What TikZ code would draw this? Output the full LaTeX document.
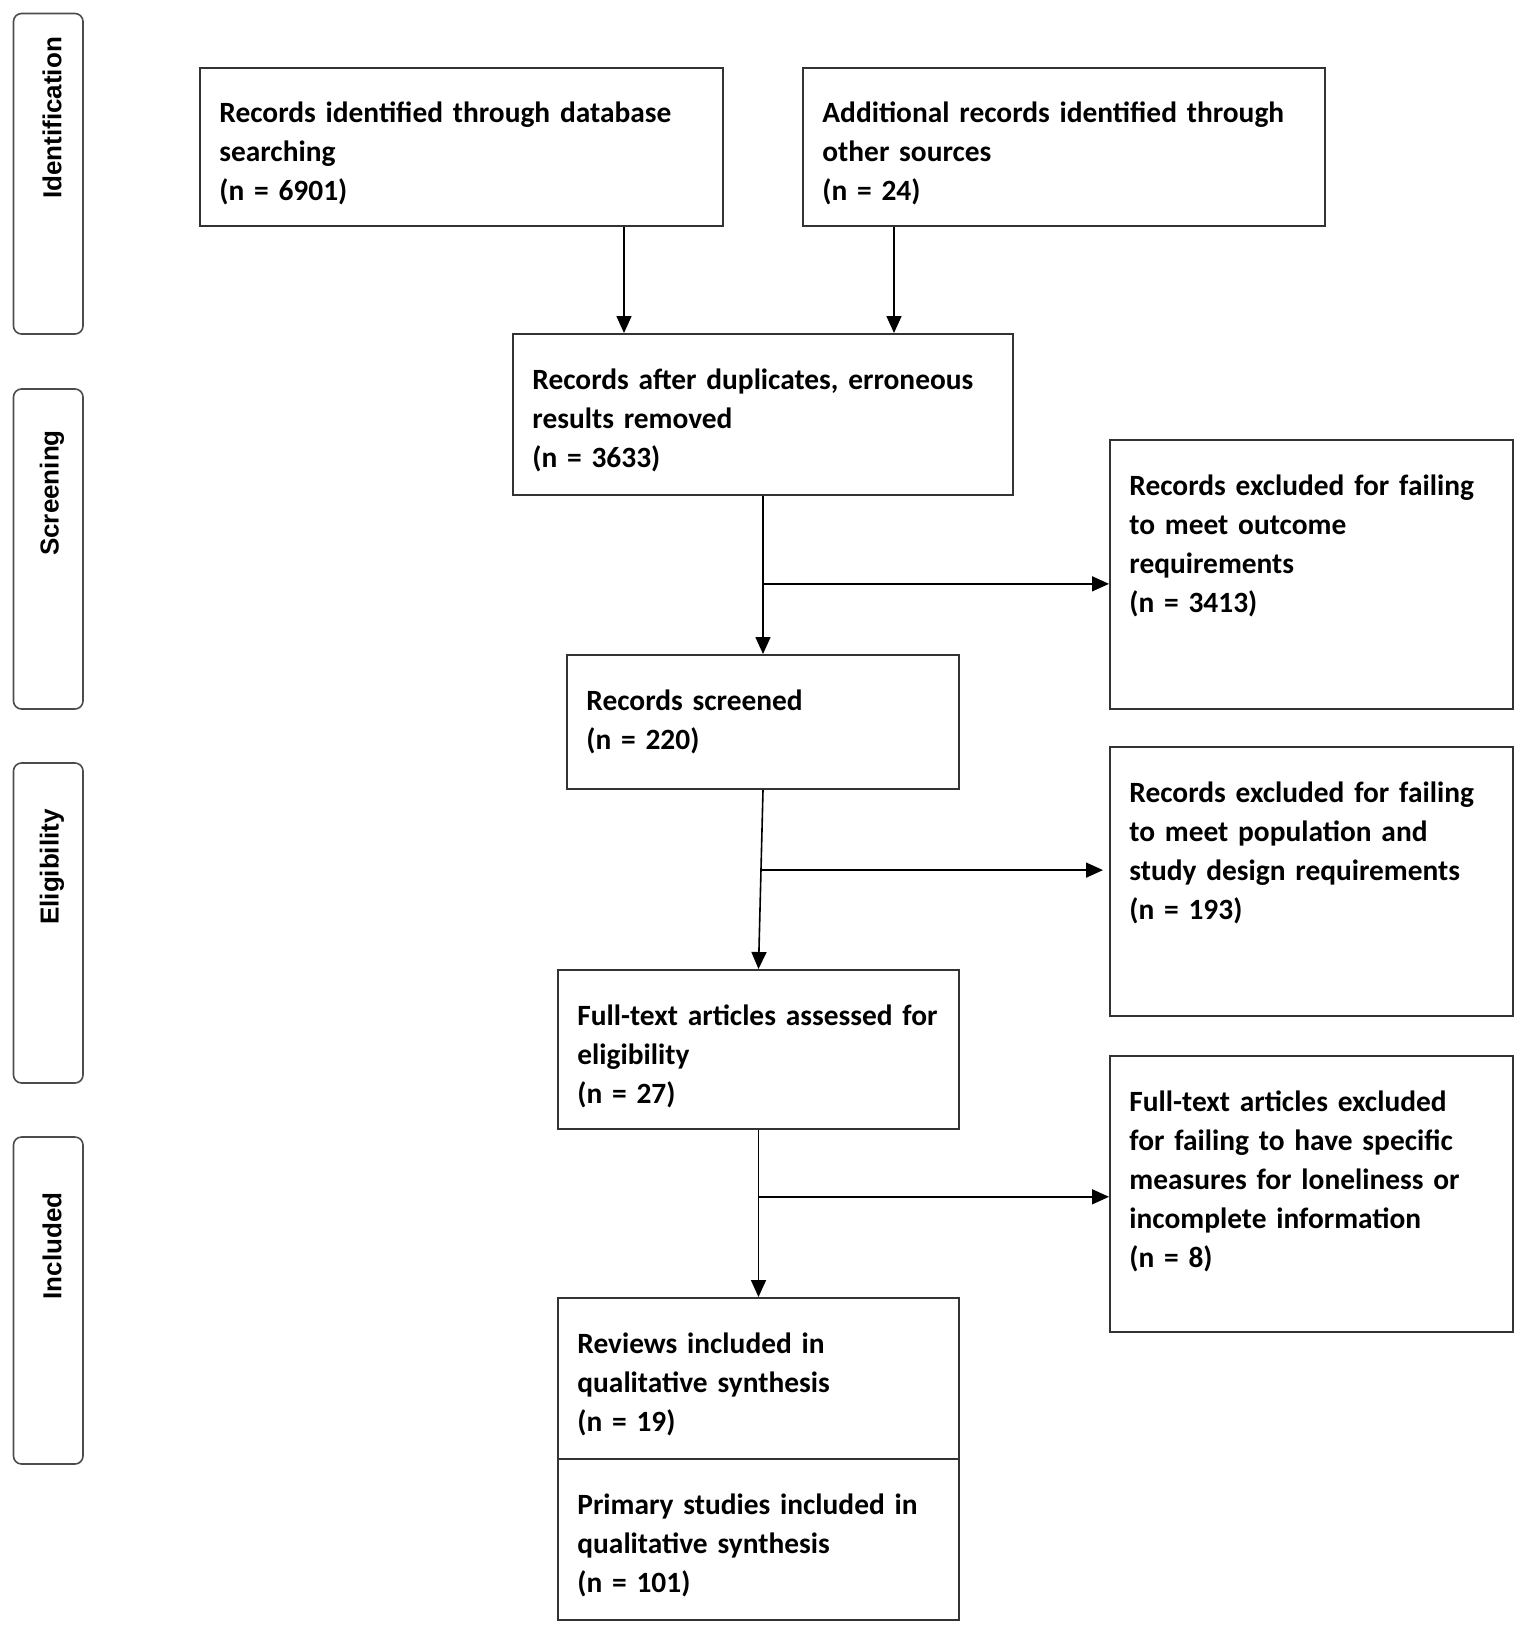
\documentclass[tikz,border=0pt]{standalone}
\usepackage{fontspec}
\setmainfont{Carlito}
\newfontfamily\phasefont{Liberation Sans}
\usetikzlibrary{arrows.meta,calc,fit}
\begin{document}
\begin{tikzpicture}[x=0.5pt,y=-0.5pt,
  box/.style={draw=black!80, line width=1pt, rectangle, inner sep=0pt},
  txt/.style={anchor=base west, inner sep=0pt, text width=300pt, align=left, font=\fontsize{14.7}{19.5}\selectfont\bfseries},
  phase/.style={draw=black!70, line width=0.8pt, rounded corners=4pt, inner sep=0pt},
  plabel/.style={rotate=90, inner sep=0pt, font=\phasefont\fontsize{13}{15}\selectfont\bfseries},
  arr/.style={draw=black, line width=0.8pt, -{Triangle[length=8.5pt,width=7.5pt]}}]
\useasboundingbox (0,0) rectangle (1523,1629);
% phase boxes
\node[phase, fit={(13.5,13.5) (83,334)}] (P1) {};
\node[phase, fit={(13.5,389) (83,709)}] (P2) {};
\node[phase, fit={(13.5,763) (83,1083)}] (P3) {};
\node[phase, fit={(13.5,1137) (83,1464)}] (P4) {};
\node[plabel] (L1) at (52,118) {Identification};
\node[plabel] (L2) at (52,493) {Screening};
\node[plabel] (L3) at (52,867) {Eligibility};
\node[plabel] (L4) at (52,1246) {Included};
% boxes
\node[box, fit={(200,67.5) (723,226)}] (A) {};
\node[box, fit={(803,67.5) (1325,226)}] (B) {};
\node[box, fit={(513,334) (1013,495)}] (C) {};
\node[box, fit={(1110,440) (1513,709)}] (D) {};
\node[box, fit={(567,655) (959,789)}] (E) {};
\node[box, fit={(1110,747) (1513,1016)}] (F) {};
\node[box, fit={(558,970) (959,1129)}] (G) {};
\node[box, fit={(1110,1056) (1513,1332)}] (H) {};
\node[box, fit={(558,1298) (959,1459)}] (I) {};
\node[box, fit={(558,1459) (959,1620)}] (J) {};
% texts
\node[txt] (At) at ($(A.north west)+(20,56)$) {Records identified through database\\searching\\(n = 6901)};
\node[txt] (Bt) at ($(B.north west)+(20,56)$) {Additional records identified through\\other sources\\(n = 24)};
\node[txt] (Ct) at ($(C.north west)+(20,56)$) {Records after duplicates, erroneous\\results removed\\(n = 3633)};
\node[txt] (Dt) at ($(D.north west)+(20,56)$) {Records excluded for failing\\to meet outcome\\requirements\\(n = 3413)};
\node[txt] (Et) at ($(E.north west)+(20,56)$) {Records screened\\(n = 220)};
\node[txt] (Ft) at ($(F.north west)+(20,56)$) {Records excluded for failing\\to meet population and\\study design requirements\\(n = 193)};
\node[txt] (Gt) at ($(G.north west)+(20,56)$) {Full-text articles assessed for\\eligibility\\(n = 27)};
\node[txt] (Ht) at ($(H.north west)+(20,56)$) {Full-text articles excluded\\for failing to have specific\\measures for loneliness or\\incomplete information\\(n = 8)};
\node[txt] (It) at ($(I.north west)+(20,56)$) {Reviews included in\\qualitative synthesis\\(n = 19)};
\node[txt] (Jt) at ($(J.north west)+(20,56)$) {Primary studies included in\\qualitative synthesis\\(n = 101)};
% connectors
\coordinate (ca) at ($(C.north west)+(112,0)$);
\coordinate (cb) at ($(C.north west)+(382,0)$);
\draw[arr] (A.south -| ca) -- (ca);
\draw[arr] (B.south -| cb) -- (cb);
\draw[arr] (C.south) -- coordinate[pos=0.556] (b1) (E.north);
\draw[arr] (b1) -- (b1 -| D.west);
\draw[arr] (E.south) -- coordinate[pos=0.4475] (b2) (G.north);
\draw[arr, shorten >=3pt] (b2) -- (b2 -| F.west);
\draw[arr] (G.south) -- coordinate[pos=0.40] (b3) (I.north);
\draw[arr] (b3) -- (b3 -| H.west);
\end{tikzpicture}
\end{document}
